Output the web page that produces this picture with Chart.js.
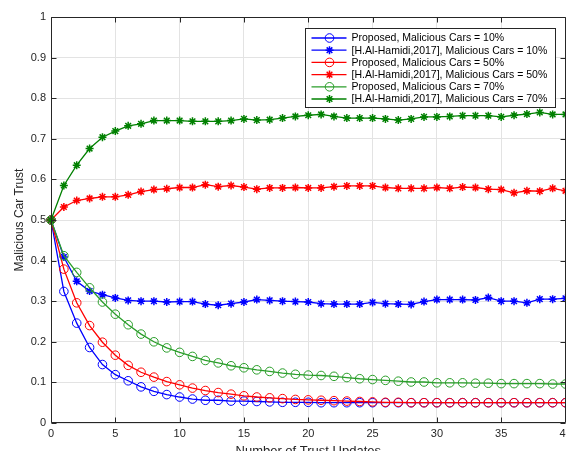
<!DOCTYPE html>
<html><head><meta charset="utf-8">
<script src="https://cdn.jsdelivr.net/npm/chart.js@4"></script>
<style>
html,body{margin:0;padding:0;background:#fff;overflow:hidden;width:566px;height:451px;position:relative}
#wrap{position:absolute;left:0;top:0;width:571px;height:462px}
canvas{display:block}
</style></head>
<body>
<div id="wrap"><canvas id="c" width="571" height="462" style="width:571px;height:462px"></canvas></div>
<script>
const updates = [0,1,2,3,4,5,6,7,8,9,10,11,12,13,14,15,16,17,18,19,20,21,22,23,24,25,26,27,28,29,30,31,32,33,34,35,36,37,38,39,40];
const xTicks = [0,5,10,15,20,25,30,35,40];
const yTicks = [0,0.1,0.2,0.3,0.4,0.5,0.6,0.7,0.8,0.9,1];

const proposed10 = [0.5,0.324,0.246,0.186,0.144,0.119,0.104,0.089,0.078,0.070,0.064,0.059,0.056,0.056,0.054,0.054,0.053,0.052,0.051,0.051,0.051,0.050,0.050,0.050,0.050,0.050,0.050,0.050,0.050,0.050,0.050,0.050,0.050,0.050,0.050,0.050,0.050,0.050,0.050,0.050,0.050];
const hamidi10 = [0.5,0.409,0.349,0.325,0.316,0.308,0.302,0.300,0.300,0.298,0.299,0.299,0.293,0.290,0.294,0.298,0.304,0.302,0.300,0.299,0.298,0.294,0.293,0.293,0.293,0.297,0.294,0.293,0.292,0.299,0.304,0.304,0.304,0.303,0.309,0.300,0.300,0.296,0.305,0.305,0.307];
const proposed50 = [0.5,0.379,0.296,0.240,0.199,0.167,0.142,0.125,0.113,0.102,0.094,0.086,0.080,0.075,0.071,0.067,0.064,0.062,0.060,0.058,0.057,0.056,0.055,0.054,0.053,0.052,0.051,0.051,0.050,0.050,0.050,0.050,0.050,0.050,0.050,0.050,0.050,0.050,0.050,0.050,0.050];
const hamidi50 = [0.5,0.532,0.548,0.553,0.557,0.557,0.562,0.570,0.575,0.577,0.580,0.580,0.587,0.582,0.585,0.581,0.576,0.579,0.579,0.580,0.579,0.579,0.582,0.584,0.584,0.584,0.580,0.578,0.578,0.578,0.580,0.578,0.581,0.580,0.576,0.575,0.567,0.572,0.571,0.578,0.572];
const proposed70 = [0.5,0.412,0.371,0.333,0.298,0.268,0.242,0.219,0.200,0.185,0.174,0.164,0.154,0.148,0.141,0.136,0.131,0.127,0.123,0.120,0.118,0.117,0.115,0.112,0.109,0.107,0.105,0.103,0.101,0.101,0.099,0.099,0.099,0.098,0.098,0.097,0.097,0.097,0.097,0.096,0.096];
const hamidi70 = [0.5,0.585,0.635,0.676,0.704,0.719,0.732,0.737,0.745,0.745,0.745,0.743,0.743,0.743,0.745,0.749,0.746,0.747,0.751,0.755,0.758,0.760,0.755,0.751,0.751,0.751,0.749,0.746,0.749,0.754,0.754,0.755,0.757,0.757,0.757,0.754,0.758,0.761,0.765,0.760,0.760];

const seriesNames = [
  'Proposed, Malicious Cars = 10%',
  '[H.Al-Hamidi,2017], Malicious Cars = 10%',
  'Proposed, Malicious Cars = 50%',
  '[H.Al-Hamidi,2017], Malicious Cars = 50%',
  'Proposed, Malicious Cars = 70%',
  '[H.Al-Hamidi,2017], Malicious Cars = 70%'
];
const seriesValues = [proposed10, hamidi10, proposed50, hamidi50, proposed70, hamidi70];
const seriesColors = ['#0000ff','#0000ff','#ff0000','#ff0000','#2a9e2a','#008000'];
const seriesMarkers = ['circle','star','circle','star','circle','star'];

const FONT = '"Liberation Sans", Arial, Helvetica, sans-serif';
const AX = '#262626';

const datasets = seriesValues.map((vals, i) => ({
  label: seriesNames[i],
  data: vals.map((v, j) => ({x: updates[j], y: v})),
  borderColor: seriesColors[i],
  backgroundColor: seriesMarkers[i] === 'circle' ? 'rgba(0,0,0,0)' : seriesColors[i],
  pointBorderColor: seriesColors[i],
  pointBackgroundColor: seriesMarkers[i] === 'circle' ? 'rgba(0,0,0,0)' : seriesColors[i],
  pointStyle: seriesMarkers[i],
  pointRadius: seriesMarkers[i] === 'circle' ? 4.3 : 4,
  pointBorderWidth: seriesMarkers[i] === 'circle' ? 1 : 1.5,
  borderWidth: 1.3,
  tension: 0,
  clip: false,
  order: seriesValues.length - i
}));

const boxPlugin = {
  id: 'matlabBox',
  afterDatasetsDraw(chart) {
    const {ctx, chartArea: a, scales: {x, y}} = chart;
    ctx.save();
    ctx.strokeStyle = AX;
    ctx.lineWidth = 1;
    const L = Math.round(a.left) + 0.5, R = Math.round(a.right) - 0.5;
    const T = Math.round(a.top) + 0.5, B = Math.round(a.bottom) - 0.5;
    ctx.beginPath();
    ctx.rect(L, T, R - L, B - T);
    const tl = 5;
    xTicks.forEach(v => {
      const px = Math.round(x.getPixelForValue(v)) + 0.5;
      ctx.moveTo(px, B); ctx.lineTo(px, B - tl);
      ctx.moveTo(px, T); ctx.lineTo(px, T + tl);
    });
    yTicks.forEach(v => {
      const py = Math.round(y.getPixelForValue(v)) + 0.5;
      ctx.moveTo(L, py); ctx.lineTo(L + tl, py);
      ctx.moveTo(R, py); ctx.lineTo(R - tl, py);
    });
    ctx.stroke();
    ctx.restore();
  }
};

const legendPlugin = {
  id: 'matlabLegend',
  afterDraw(chart) {
    const {ctx, chartArea: a} = chart;
    const w = 250, rowH = 12.2, h = 79;
    const x0 = Math.round(a.right - 11 - w) + 0.5, y0 = Math.round(a.top + 11) + 0.5;
    ctx.save();
    ctx.fillStyle = '#fff';
    ctx.fillRect(x0, y0, w, h);
    ctx.strokeStyle = AX;
    ctx.lineWidth = 1;
    ctx.strokeRect(x0, y0, w, h);
    ctx.font = '10.5px ' + FONT;
    ctx.textBaseline = 'middle';
    ctx.textAlign = 'left';
    chart.data.datasets.forEach((ds, i) => {
      const cy = y0 + 9.5 + i * rowH;
      ctx.strokeStyle = ds.borderColor;
      ctx.lineWidth = 1.3;
      ctx.beginPath();
      ctx.moveTo(x0 + 6, cy); ctx.lineTo(x0 + 41, cy);
      ctx.stroke();
      ctx.fillStyle = ds.pointBackgroundColor;
      ctx.lineWidth = ds.pointBorderWidth;
      Chart.helpers.drawPoint(ctx, {pointStyle: ds.pointStyle, radius: ds.pointRadius, rotation: 0, borderWidth: ds.pointBorderWidth}, x0 + 24, cy);
      ctx.fillStyle = '#000';
      ctx.fillText(ds.label, x0 + 46, cy + 0.5);
    });
    ctx.restore();
  }
};

new Chart(document.getElementById('c'), {
  type: 'line',
  data: {datasets},
  options: {
    responsive: false,
    animation: false,
    devicePixelRatio: 1,
    layout: {padding: {top: 17, right: 0, left: 0, bottom: 0}},
    plugins: {legend: {display: false}, tooltip: {enabled: false}},
    elements: {line: {fill: false}},
    scales: {
      x: {
        type: 'linear', min: 0, max: 40,
        afterBuildTicks: s => { s.ticks = xTicks.map(v => ({value: v})); },
        afterFit: s => { s.height = 39; s.paddingLeft = 0; s.paddingRight = 0; },
        ticks: {autoSkip: false, maxRotation: 0, padding: 4, color: AX, font: {family: FONT, size: 11}},
        grid: {color: '#e3e3e3', drawTicks: false, lineWidth: 1},
        border: {display: false},
        title: {display: true, text: 'Number of Trust Updates', color: AX, font: {family: FONT, size: 13}, padding: {top: 0, bottom: 3}}
      },
      y: {
        type: 'linear', min: 0, max: 1,
        afterBuildTicks: s => { s.ticks = yTicks.map(v => ({value: v})); },
        afterFit: s => { s.width = 51; },
        ticks: {padding: 5, color: AX, font: {family: FONT, size: 11}, callback: v => String(+v.toFixed(1))},
        grid: {color: '#e3e3e3', drawTicks: false, lineWidth: 1},
        border: {display: false},
        title: {display: true, text: 'Malicious Car Trust', color: AX, font: {family: FONT, size: 12}, padding: {top: 12, bottom: 0}}
      }
    }
  },
  plugins: [boxPlugin, legendPlugin]
});
</script>
</body></html>
